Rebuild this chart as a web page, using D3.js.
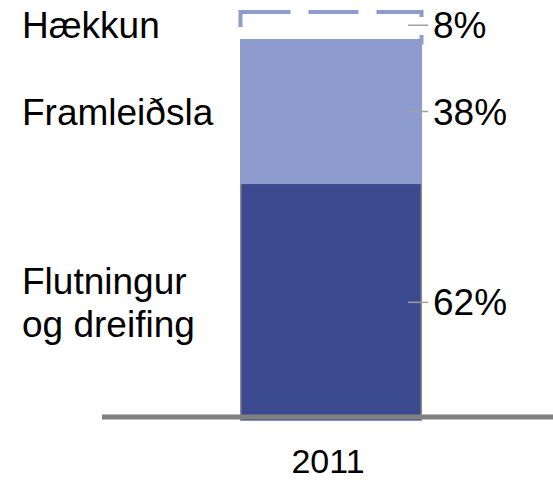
<!DOCTYPE html>
<html><head><meta charset="utf-8">
<script src="https://cdn.jsdelivr.net/npm/d3@7"></script>
<style>html,body{margin:0;padding:0;background:#fff}svg{display:block}</style>
</head><body>
<script>
const categories = ["2011"];
const segmentNames = [["Flutningur", "og dreifing"], ["Framleiðsla"], ["Hækkun"]];
const segmentValues = [62, 38, 8];
const segmentLabels = ["62%", "38%", "8%"];
const segmentStyles = ["solid", "solid", "dashed"];

const W = 553, H = 480;
const svg = d3.select("body").append("svg").attr("width", W).attr("height", H);
const font = "'Liberation Sans', Arial, sans-serif";

const x = d3.scaleBand().domain(categories).range([102, 560]).paddingInner(0).paddingOuter(0.758);
const total = d3.sum(segmentValues);
const y = d3.scaleLinear().domain([0, total]).range([420.6, 8.5]);

let acc = 0;
const segs = segmentValues.map((v, i) => {
  const s = { y0: acc, y1: acc + v, i };
  acc += v;
  return s;
});

const bx = x("2011"), bw = x.bandwidth();
const colors = ["#3b4a8f", "#8e9bcf", "#8e9bcf"];

segs.forEach(s => {
  if (segmentStyles[s.i] === "solid") {
    svg.append("rect").attr("x", bx).attr("width", bw)
      .attr("y", y(s.y1)).attr("height", y(s.y0) - y(s.y1))
      .attr("fill", colors[s.i]);
  } else {
    svg.insert("rect", ":first-child").attr("x", bx + 0.5).attr("width", bw - 1)
      .attr("y", y(s.y1) + 3.5).attr("height", y(s.y0) - y(s.y1))
      .attr("fill", "#fff").attr("stroke", colors[s.i]).attr("stroke-width", 4)
      .attr("stroke-dasharray", "50,18");
  }
});
// side edges of the dark segment
[bx + 0.75, bx + bw - 0.75].forEach(xx => {
  svg.append("line").attr("x1", xx).attr("x2", xx)
    .attr("y1", y(segs[0].y1)).attr("y2", y(0))
    .attr("stroke", "#8a8a8a").attr("stroke-width", 1.5);
});

// baseline
svg.append("line").attr("x1", 102).attr("x2", W).attr("y1", 417).attr("y2", 417)
  .attr("stroke", "#808080").attr("stroke-width", 5);

// labels
segs.forEach(s => {
  let mid = (y(s.y0) + y(s.y1)) / 2;
  if (s.i === 2) mid = (y(s.y0) + y(s.y1) + 3) / 2;
  svg.append("line").attr("x1", 408).attr("x2", 428).attr("y1", mid).attr("y2", mid)
    .attr("stroke", "#a0a0a0").attr("stroke-width", 1.5);
  svg.append("text").attr("x", 433).attr("y", mid + 13)
    .attr("font-family", font).attr("font-size", 37).attr("fill", "#000")
    .text(segmentLabels[s.i]);
  const lines = segmentNames[s.i];
  const lh = 43;
  lines.forEach((t, k) => {
    svg.append("text").attr("x", 22)
      .attr("y", mid + 13 + (k - (lines.length - 1) / 2) * lh)
      .attr("font-family", font).attr("font-size", 37).attr("fill", "#000")
      .text(t);
  });
});

// category axis label
svg.append("text").attr("x", bx + bw / 2 - 3).attr("y", 473).attr("text-anchor", "middle")
  .attr("font-family", font).attr("font-size", 34).attr("fill", "#000")
  .text(categories[0]);
</script>
</body></html>
